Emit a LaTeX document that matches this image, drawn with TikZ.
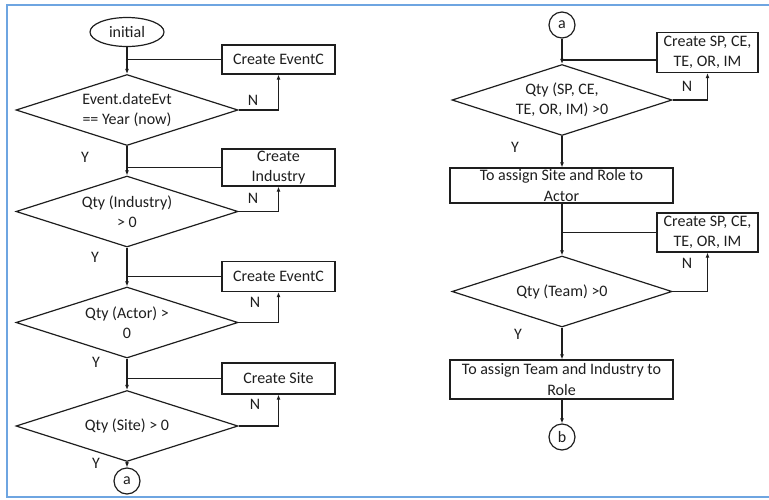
\documentclass[tikz,border=0pt]{standalone}
\usepackage{fontspec}
\setmainfont{Carlito}
\usetikzlibrary{shapes.geometric,arrows.meta,calc}
\definecolor{framec}{RGB}{110,165,225}
\definecolor{ink}{RGB}{30,30,30}
\begin{document}
\begin{tikzpicture}[x=1pt,y=-1pt,
  every node/.style={font=\fontsize{16}{20.5}\selectfont, text=ink},
  proc/.style={draw=ink, line width=1.2pt, align=center, inner sep=0pt},
  dec/.style={draw=ink, shape=diamond, line width=1.2pt, align=center, inner sep=0pt,
    minimum width=222pt, minimum height=71pt, aspect=3.1},
  conn/.style={draw=ink, circle, line width=1.2pt, minimum size=26pt, inner sep=0pt},
  term/.style={draw=ink, ellipse, line width=1.2pt, minimum width=74pt, minimum height=29pt, inner sep=0pt},
  flow/.style={draw=ink, line width=1.2pt, -{Latex[length=5pt,width=4pt]}},
  link/.style={draw=ink, line width=1.2pt},
  lbl/.style={inner sep=0pt}
]
\useasboundingbox (0,0) rectangle (769,499);
\draw[framec, line width=2pt] (769,5) -- (7,5) -- (7,497) -- (769,497);

% left column
\node[term] (init) at (127,32) {initial};
\node[proc, minimum width=113pt, minimum height=29pt] (c1) at (278.5,59.5) {Create EventC};
\node[dec] (d1) at (127,110) {Event.dateEvt\\== Year (now)};
\node[proc, minimum width=113pt, minimum height=37pt] (c2) at (278.5,167.5) {Create\\Industry};
\node[dec] (d2) at (127,211.5) {Qty (Industry)\\> 0};
\node[proc, minimum width=113pt, minimum height=30pt] (c3) at (278.5,276.5) {Create EventC};
\node[dec] (d3) at (127,322.5) {Qty (Actor) >\\0};
\node[proc, minimum width=113pt, minimum height=31pt] (c4) at (278.5,378.5) {Create Site};
\node[dec] (d4) at (127,426) {Qty (Site) > 0};
\node[conn] (a1) at (127,481) {a};

\node[lbl] (n1) at (253,100) {N};
\node[lbl] (n2) at (253,198) {N};
\node[lbl] (n3) at (255,302) {N};
\node[lbl] (n4) at (255,404) {N};
\node[lbl] (y1) at (85,157) {Y};
\node[lbl] (y2) at (95,257) {Y};
\node[lbl] (y3) at (96,362) {Y};
\node[lbl] (y4) at (96,463) {Y};

\draw[flow] (init.south) -- (d1.north);
\draw[link] (c1.west) -- (c1.west -| init.south);
\draw[flow] (d1.east) -| (c1.south);
\draw[flow] (d1.south) -- (d2.north);
\draw[link] (c2.west) -- (c2.west -| d1.south);
\draw[flow] (d2.east) -| (c2.south);
\draw[flow] (d2.south) -- (d3.north);
\draw[link] (c3.west) -- (c3.west -| d2.south);
\draw[flow] (d3.east) -| (c3.south);
\draw[flow] (d3.south) -- (d4.north);
\draw[link] (c4.west) -- (c4.west -| d3.south);
\draw[flow] (d4.east) -| (c4.south);
\draw[flow] (d4.south) -- (a1.north);

% right column
\node[conn] (a2) at (562,25) {a};
\node[proc, minimum width=101pt, minimum height=40pt] (c5) at (707.5,52.5) {Create SP, CE,\\TE, OR, IM};
\node[dec, minimum width=220pt] (d5) at (562,100) {Qty (SP, CE,\\TE, OR, IM) >0};
\node[proc, minimum width=223pt, minimum height=35pt] (s1) at (561.5,185.5) {To assign Site and Role to\\Actor};
\node[proc, minimum width=101pt, minimum height=39pt] (c6) at (707.5,232.5) {Create SP, CE,\\TE, OR, IM};
\node[dec, minimum width=220pt] (d6) at (562,291.5) {Qty (Team) >0};
\node[proc, minimum width=223pt, minimum height=39pt] (s2) at (561.5,379.5) {To assign Team and Industry to\\Role};
\node[conn] (b1) at (562,437) {b};

\node[lbl] (n5) at (687,86) {N};
\node[lbl] (n6) at (687,263) {N};
\node[lbl] (y5) at (515,147) {Y};
\node[lbl] (y6) at (518,334) {Y};

\coordinate (j5) at (562,60);
\draw[flow] (a2.south) -- (d5.north);
\draw[link] (c5.west |- j5) -- (j5);
\draw[flow] (d5.east) -| (c5.south);
\draw[flow] (d5.south) -- (d5.south |- s1.north);
\draw[flow] (s1.south -| d6.north) -- (d6.north);
\draw[link] (c6.west) -- (c6.west -| d6.north);
\draw[flow] (d6.east) -| (c6.south);
\draw[flow] (d6.south) -- (d6.south |- s2.north);
\draw[flow] (s2.south -| b1.north) -- (b1.north);
\end{tikzpicture}
\end{document}
